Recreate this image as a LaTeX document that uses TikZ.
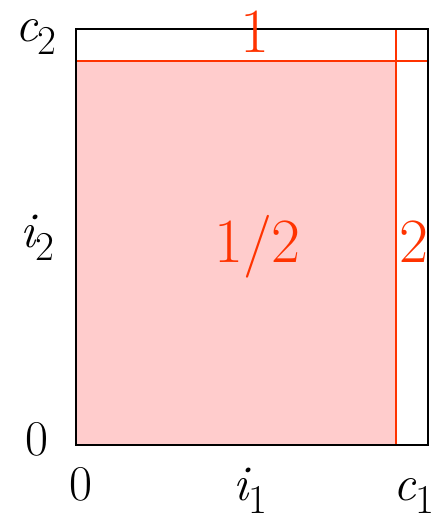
\documentclass[tikz,border=0pt]{standalone}
\usepackage{fontspec}
\usetikzlibrary{positioning}
\definecolor{cutred}{HTML}{FF3300}
\definecolor{cutfill}{HTML}{FFCCCC}
\newcommand{\lowsub}[2]{{\itshape #1}\raisebox{-13pt}{\fontsize{41}{42}\selectfont #2}}
\tikzset{
  axlab/.style={inner sep=0pt, anchor=base, font=\fontsize{50}{52}\selectfont},
  axlabw/.style={inner sep=0pt, anchor=base west, font=\fontsize{50}{52}\selectfont},
  redlab/.style={inner sep=0pt, anchor=base, text=cutred, font=\fontsize{63}{66}\selectfont},
  cut/.style={draw=cutred, line width=1.5pt},
  frame/.style={draw=black, line width=2pt},
}
\begin{document}
\begin{tikzpicture}[x=1pt,y=-1pt]
  \useasboundingbox (0,0) rectangle (436,521);
  % square and the region below both cuts
  \coordinate (sw) at (76,445);
  \coordinate (ne) at (428,29);
  \coordinate (cut) at (396,61);
  \fill[cutfill] (sw) rectangle (cut);
  \draw[cut] (sw |- cut) -- (ne |- cut);
  \draw[cut] (cut |- ne) -- (cut |- sw);
  \draw[frame] (sw) rectangle (ne);
  % axis labels
  \node[axlabw] (c2) at (15,42) {\lowsub{c}{2}};
  \node[axlabw] (i2) at (20,247) {\lowsub{i}{2}};
  \node[axlab] (zy) at (36.5,455) {0};
  \node[axlab] (zx) at (81,500) {0};
  \node[axlabw] (i1) at (233,500) {\lowsub{i}{1}};
  \node[axlabw] (c1) at (393,500) {\lowsub{c}{1}};
  % region labels
  \node[redlab] (one) at (255,53) {1};
  \node[redlab] (half) at (257.5,262) {1/2};
  \node[redlab] (two) at (413.5,262) {2};
\end{tikzpicture}
\end{document}
